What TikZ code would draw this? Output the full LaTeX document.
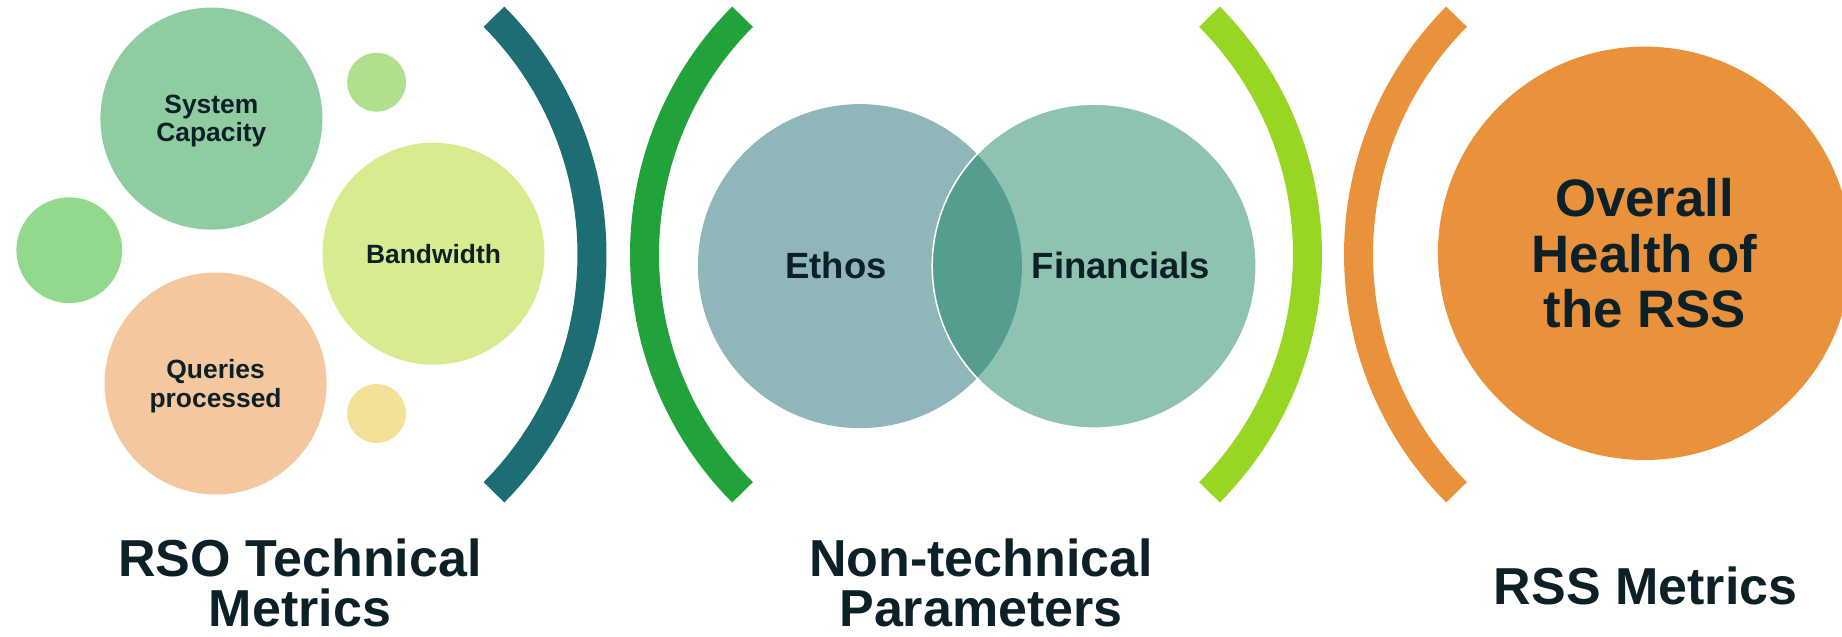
\documentclass[tikz,border=0pt]{standalone}
\usepackage{fontspec}
\setmainfont{Liberation Sans}
\definecolor{inkdark}{HTML}{0C2027}
\definecolor{capgreen}{HTML}{8FCCA1}
\definecolor{dotgreen}{HTML}{AEE08E}
\definecolor{sidegreen}{HTML}{93D98D}
\definecolor{bandgreen}{HTML}{D7EC8E}
\definecolor{querypeach}{HTML}{F4C79E}
\definecolor{dotyellow}{HTML}{F2E196}
\definecolor{tealbr}{HTML}{1C6E74}
\definecolor{greenbr}{HTML}{22A23A}
\definecolor{limebr}{HTML}{97D622}
\definecolor{orangebr}{HTML}{EA913B}
\definecolor{ethosblue}{HTML}{8FB6B9}
\definecolor{fingreen}{HTML}{8FC3B1}
\definecolor{lensgreen}{HTML}{559E8F}
\tikzset{
        bubbletext/.style={align=center,inner sep=0pt,text=inkdark},
        % Labelled bubbles
        bubble/.style={bubbletext, circle, text depth=0pt, minimum size=222pt, font=\bfseries\fontsize{26.4}{28.3}\selectfont},
        % Small bubbles
        dot/.style={circle, inner sep=0pt, minimum size=58.8pt},
        % Venn circles
        venn/.style={circle, inner sep=0pt, minimum size=324pt},
        % Bracket arcs
        bracket/.style={line width=29pt},
        % Column titles
        coltitle/.style={bubbletext, font=\bfseries\fontsize{52}{49.5}\selectfont}
}
\begin{document}
\begin{tikzpicture}[x=1pt, y=-1pt]
            \clip (0,0) rectangle (1842,637);
            % technical metrics
            \node[bubble, fill=capgreen] (sys) at (211.4,118.6) {System\\Capacity};
            \node[dot, fill=dotgreen] (dottop) at (376.6,82.2) {};
            \node[dot, fill=sidegreen, minimum size=105.8pt] (dotside) at (69.3,250.2) {};
            \node[bubble, fill=bandgreen] (band) at (433.5,253.7) {Bandwidth};
            \node[bubble, fill=querypeach] (query) at (215.6,383.5) {Queries\\processed};
            \node[dot, fill=dotyellow] (dotbot) at (376.6,413.5) {};
            \coordinate (tealc) at (254.5,254.5);
            \draw[bracket, tealbr] (tealc) ++(-44.8:337.5) arc[start angle=-44.8, end angle=44.8, radius=337.5];
            % non-technical parameters
            \coordinate (greenc) at (982,254.5);
            \draw[bracket, greenbr] (greenc) ++(135.2:337.5) arc[start angle=135.2, end angle=224.8, radius=337.5];
            \node[venn, fill=ethosblue] (ethos) at (859.9,266.1) {};
            \node[venn, fill=fingreen] (fin) at (1094.2,266.1) {};
            \begin{scope}
                \clip (ethos.center) circle[radius=162];
                \fill[lensgreen] (fin.center) circle[radius=162];
            \end{scope}
            \draw[white, line width=1.5pt] (fin.center) circle[radius=162];
            \node[bubbletext, font=\bfseries\fontsize{36.5}{38}\selectfont] (ethostext) at (836,265.5) {Ethos};
            \node[bubbletext, font=\bfseries\fontsize{36.5}{38}\selectfont] (fintext) at (1121,265.5) {Financials};
            \coordinate (limec) at (970,254.5);
            \draw[bracket, limebr] (limec) ++(-44.8:337.5) arc[start angle=-44.8, end angle=44.8, radius=337.5];
            % RSS metrics
            \coordinate (orangec) at (1696,254.5);
            \draw[bracket, orangebr] (orangec) ++(135.2:337.5) arc[start angle=135.2, end angle=224.8, radius=337.5];
            \node[bubbletext, circle, fill=orangebr, minimum size=413.4pt, font=\bfseries\fontsize{52.7}{55.7}\selectfont] (health) at (1644.6,253.3) {Overall\\Health of\\the RSS};
            % titles
            \node[coltitle] (techtitle) at (300,583) {RSO Technical\\Metrics};
            \node[coltitle] (nontitle) at (981,583) {Non-technical\\Parameters};
            \node[coltitle] (rsstitle) at (1645.7,585.8) {RSS Metrics};
        \end{tikzpicture}
\end{document}
